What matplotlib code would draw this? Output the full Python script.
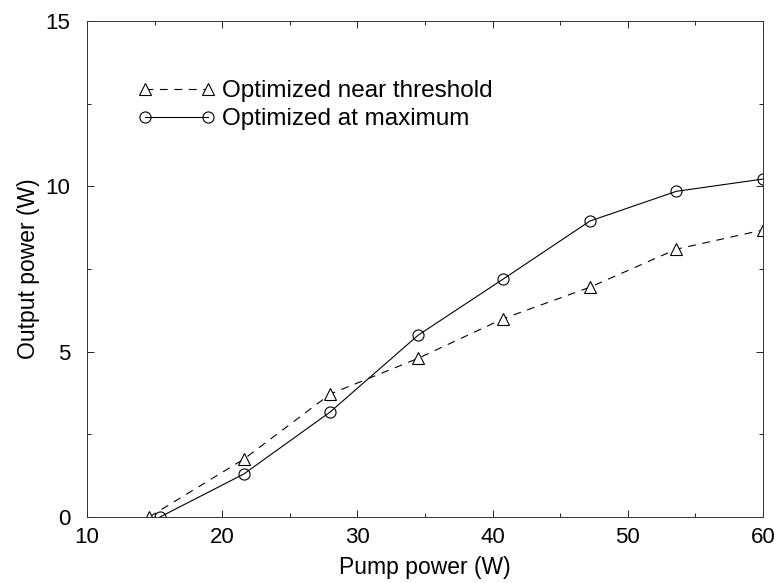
import matplotlib
matplotlib.use("Agg")
import matplotlib.pyplot as plt
from matplotlib.ticker import MultipleLocator

plt.rcParams["font.family"] = ["Liberation Sans", "DejaVu Sans"]

# data
PUMP_NEAR = [14.6, 21.6, 28.0, 34.5, 40.8, 47.2, 53.6, 60.0]
OUT_NEAR = [0.0, 1.75, 3.72, 4.8, 6.0, 6.95, 8.1, 8.68]
PUMP_MAX = [15.4, 21.6, 28.0, 34.5, 40.8, 47.2, 53.6, 60.0]
OUT_MAX = [0.0, 1.3, 3.18, 5.5, 7.2, 8.95, 9.85, 10.22]

LABEL_NEAR = "Optimized near threshold"
LABEL_MAX = "Optimized at maximum"


def main() -> None:
    fig = plt.figure(figsize=(7.78, 5.83), dpi=100)
    ax = fig.add_axes([0.1118, 0.1132, 0.8689, 0.8508])

    ax.plot(PUMP_NEAR, OUT_NEAR, color="black", lw=0.8, dashes=(7, 6),
            marker="^", markersize=8, markerfacecolor="white",
            markeredgecolor="black", markeredgewidth=0.8, label=LABEL_NEAR)
    ax.plot(PUMP_MAX, OUT_MAX, color="black", lw=0.8,
            marker="o", markersize=8, markerfacecolor="none",
            markeredgecolor="black", markeredgewidth=0.8, label=LABEL_MAX)

    ax.set_xlim(10, 60)
    ax.set_ylim(0, 15)
    ax.xaxis.set_major_locator(MultipleLocator(10))
    ax.xaxis.set_minor_locator(MultipleLocator(5))
    ax.yaxis.set_major_locator(MultipleLocator(5))
    ax.yaxis.set_minor_locator(MultipleLocator(2.5))
    ax.tick_params(which="both", direction="in", top=True, right=True,
                   width=0.6, labelsize=16)
    ax.tick_params(which="major", length=5)
    ax.tick_params(which="minor", length=3)
    ax.tick_params(axis="x", which="major", pad=7)
    ax.tick_params(axis="y", which="major", pad=12)
    for spine in ax.spines.values():
        spine.set_linewidth(0.7)
        spine.set_color("#333333")

    ax.set_xlabel("Pump power (W)", fontsize=16.5, labelpad=6)
    ax.set_ylabel("Output power (W)", fontsize=16.5, labelpad=4)

    ax.legend(loc="upper left", bbox_to_anchor=(0.06, 0.9), frameon=False,
              numpoints=2, handlelength=3.2, handletextpad=0.3,
              labelspacing=0.25, fontsize=17.5, borderaxespad=0)

    fig.savefig("out.png", dpi=100)


if __name__ == "__main__":
    main()
